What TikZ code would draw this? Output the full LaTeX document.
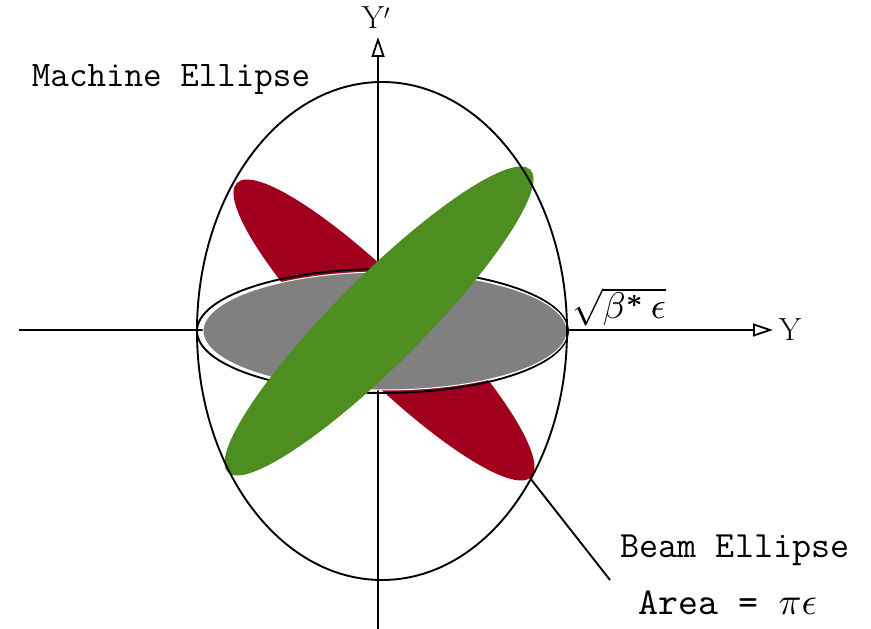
\documentclass[tikz,border=0pt]{standalone}
\usepackage{amsmath}
\usetikzlibrary{arrows.meta}
\definecolor{beamred}{HTML}{A0001E}
\definecolor{beamgreen}{HTML}{4E8E21}
\definecolor{beamgray}{HTML}{808080}
\tikzset{
  axis/.style={line width=1.5pt, -{Triangle[open, length=20pt, width=13pt, line width=1.8pt]}},
  curve/.style={line width=1.9pt, black},
  lbl/.style={inner sep=0pt, font=\ttfamily\fontsize{36}{40}\selectfont},
}
\begin{document}
\begin{tikzpicture}[x=1pt,y=1pt]
\useasboundingbox (0,0) rectangle (871,629);
% axes
\coordinate (yb) at (378,0);
\coordinate (yt) at (378,592);
\coordinate (xl) at (19,299);
\coordinate (xr) at (773,299);
\draw[axis] (yb) -- (yt);
\draw[axis] (xl) -- (xr);
% red beam ellipse
\fill[beamred, rotate around={-45:(384,299)}] (384,299) ellipse (208 and 45);
% black outline of flat beam ellipse
\draw[curve] (382.5,298) ellipse (185.5 and 62);
% gray ellipse
\filldraw[fill=beamgray, draw=white, line width=1pt] (385,298) ellipse (182 and 59);
% green ellipse
\fill[beamgreen, rotate around={45:(379,308)}] (379,308) ellipse (214 and 44);
% machine ellipse
\draw[curve] (382,298) ellipse (185 and 249);
% leader
\coordinate (ls) at (530,151);
\coordinate (le) at (610,49);
\draw[curve] (ls) -- (le);
% labels
\node[lbl] (mach) at (171,549) {Machine Ellipse};
\node[lbl, font=\ttfamily\fontsize{37}{40}\selectfont] (beam) at (735,79) {Beam Ellipse};
\node[inner sep=0pt, scale=3.8] (area) at (728,26) {\ttfamily Area = $\pi\epsilon$};
\node[inner sep=0pt, font=\fontsize{32}{36}\selectfont] (yp) at (376,611) {Y$'$};
\node[inner sep=0pt, font=\fontsize{32}{36}\selectfont] (yy) at (790,299) {Y};
\node[inner sep=0pt, scale=3.7] (sq) at (619,322) {$\sqrt{\beta^{\boldsymbol{*}}\,\epsilon}$};
\end{tikzpicture}
\end{document}
